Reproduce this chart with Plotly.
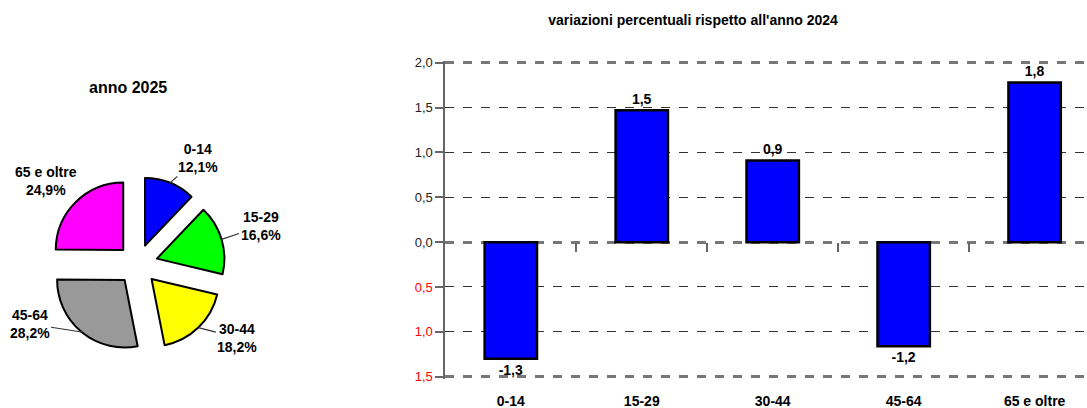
import math
import plotly.graph_objects as go

# ---- data ----
pie_labels = ["0-14", "15-29", "30-44", "45-64", "65 e oltre"]
pie_values = [12.1, 16.6, 18.2, 28.2, 24.9]
pie_colors = ["#0000FF", "#00FF00", "#FFFF00", "#999999", "#FF00FF"]

bar_categories = ["0-14", "15-29", "30-44", "45-64", "65 e oltre"]
bar_values = [-1.30, 1.47, 0.91, -1.16, 1.78]

y_tickvals = [-1.5, -1.0, -0.5, 0.0, 0.5, 1.0, 1.5, 2.0]

pie_title = "anno 2025"
bar_title = "variazioni percentuali rispetto all'anno 2024"

FONT = "Liberation Sans, Arial, sans-serif"
W, H = 1087, 408


def it_num(v, fmt="{:.1f}"):
    return fmt.format(v).replace(".", ",")


pie_text = [f"{l}<br>{it_num(v)}%" for l, v in zip(pie_labels, pie_values)]
bar_text = [it_num(v) for v in bar_values]
y_ticktext = [
    (f"<span style='color:#FF0000'>{it_num(abs(v))}</span>" if v < 0 else it_num(v))
    for v in y_tickvals
]

# ---- geometry ----
y_range = [-1.52, 2.02]
y_dom = [0.0723, 0.8507]
x_range = [-0.5, 4.4]
x_dom = [0.4097, 1.0]
zero_pos = y_dom[0] + (0 - y_range[0]) / (y_range[1] - y_range[0]) * (y_dom[1] - y_dom[0])

PULL = 0.30
pie_dom_x = [0.0458, 0.2072]
pie_dom_y = [0.1366, 0.5674]
# label offsets (pixels, text centre relative to slice-edge point) and leader-line flags
label_offsets = [(28, -25), (39, -13), (39, 10), (-52, -8), (-30, -21)]
label_lines = [True, True, True, True, False]

# pie geometry (as plotly computes it) to anchor the labels on the slice edges
box_w = W * (pie_dom_x[1] - pie_dom_x[0])
box_h = H * (pie_dom_y[1] - pie_dom_y[0])
r_px = min(box_w, box_h) / (2 * (1 + PULL))
cx = W * (pie_dom_x[0] + pie_dom_x[1]) / 2
cy = H * (1 - (pie_dom_y[0] + pie_dom_y[1]) / 2)
total = sum(pie_values)
annotations = []
cum = 0.0
for txt, v, (ox, oy), line in zip(pie_text, pie_values, label_offsets, label_lines):
    mid = 2 * math.pi * (cum + v / 2) / total
    cum += v
    dist = r_px * (1 + PULL)
    px = cx + dist * math.sin(mid)
    py = cy - dist * math.cos(mid)
    if line:
        annotations.append(dict(
            text=txt, x=px / W, y=1 - py / H, xref="paper", yref="paper",
            showarrow=True, arrowhead=0, arrowwidth=1.2, arrowcolor="#333333",
            ax=ox, ay=oy, axref="pixel", ayref="pixel", standoff=0, startstandoff=0,
            font=dict(family=FONT, size=14, color="#000000", weight="bold"), align="center"))
    else:
        annotations.append(dict(
            text=txt, x=(px + ox) / W, y=1 - (py + oy) / H, xref="paper", yref="paper",
            showarrow=False, xanchor="center", yanchor="middle",
            font=dict(family=FONT, size=14, color="#000000", weight="bold"), align="center"))

annotations.append(dict(text=pie_title, x=0.1178, y=(H - 87) / H, xref="paper", yref="paper",
                        showarrow=False, xanchor="center", yanchor="middle",
                        font=dict(family=FONT, size=16, color="#000000", weight="bold")))

fig = go.Figure()

fig.add_trace(go.Pie(
    labels=pie_labels,
    values=pie_values,
    textinfo="none",
    sort=False,
    direction="clockwise",
    rotation=0,
    pull=[PULL] * len(pie_values),
    marker=dict(colors=pie_colors, line=dict(color="#000000", width=2)),
    domain=dict(x=pie_dom_x, y=pie_dom_y),
    automargin=False,
    hoverinfo="skip",
    showlegend=False,
))

fig.add_trace(go.Bar(
    x=bar_categories,
    y=bar_values,
    width=0.4,
    marker=dict(color="#0000FF", line=dict(color="#000000", width=2.5)),
    text=bar_text,
    textposition="outside",
    textangle=0,
    constraintext="none",
    cliponaxis=False,
    textfont=dict(family=FONT, size=14, color="#000000", weight="bold"),
    hoverinfo="skip",
    showlegend=False,
    xaxis="x",
    yaxis="y",
))

# invisible helper trace for overlay axes (zero-line ticks, thick dashed borders)
fig.add_trace(go.Scatter(x=[None], y=[None], xaxis="x2", yaxis="y2",
                         mode="markers", hoverinfo="skip", showlegend=False))

fig.update_layout(
    width=W, height=H,
    margin=dict(l=0, r=0, t=0, b=0, autoexpand=False),
    paper_bgcolor="white",
    plot_bgcolor="rgba(0,0,0,0)",
    font=dict(family=FONT, color="#000000"),
    title=dict(text=bar_title, x=0.6376, xref="paper", y=1 - 20 / H, yref="container",
               xanchor="center", yanchor="middle", automargin=False,
               font=dict(family=FONT, size=14, color="#000000", weight="bold")),
    annotations=annotations,
    xaxis=dict(domain=x_dom, range=x_range, type="category", showgrid=False, zeroline=False,
               showline=False, ticks="", ticklabelstandoff=12, automargin=False,
               tickfont=dict(family=FONT, size=14, color="#000000", weight="bold"),
               fixedrange=True),
    yaxis=dict(domain=y_dom, range=y_range, tickvals=y_tickvals, ticktext=y_ticktext,
               showgrid=True, gridcolor="#333333", gridwidth=1, griddash="dash",
               zeroline=False, showline=True, linecolor="#666666", linewidth=2,
               ticks="outside", ticklen=8, tickwidth=1.5, tickcolor="#666666", automargin=False,
               tickfont=dict(family=FONT, size=13, color="#222222"), fixedrange=True),
    xaxis2=dict(overlaying="x", anchor="free", position=zero_pos, range=x_range, type="linear",
                tickvals=[0.5, 1.5, 2.5, 3.5], ticks="outside", ticklen=9, tickwidth=1.5,
                tickcolor="#666666", showticklabels=False, showgrid=False, zeroline=False,
                showline=False, fixedrange=True, automargin=False),
    yaxis2=dict(overlaying="y", anchor="x", range=y_range,
                tickvals=[y_range[0] + 0.02, 0.0, y_range[1] - 0.02],
                showticklabels=False, ticks="", showgrid=True, gridcolor="#777777", gridwidth=2.5,
                griddash="dash", zeroline=False, showline=False, fixedrange=True, automargin=False),
)

fig.write_html("out.html", config={"displayModeBar": False},
               post_script="document.body.style.margin='0';document.body.style.overflow='hidden';")
